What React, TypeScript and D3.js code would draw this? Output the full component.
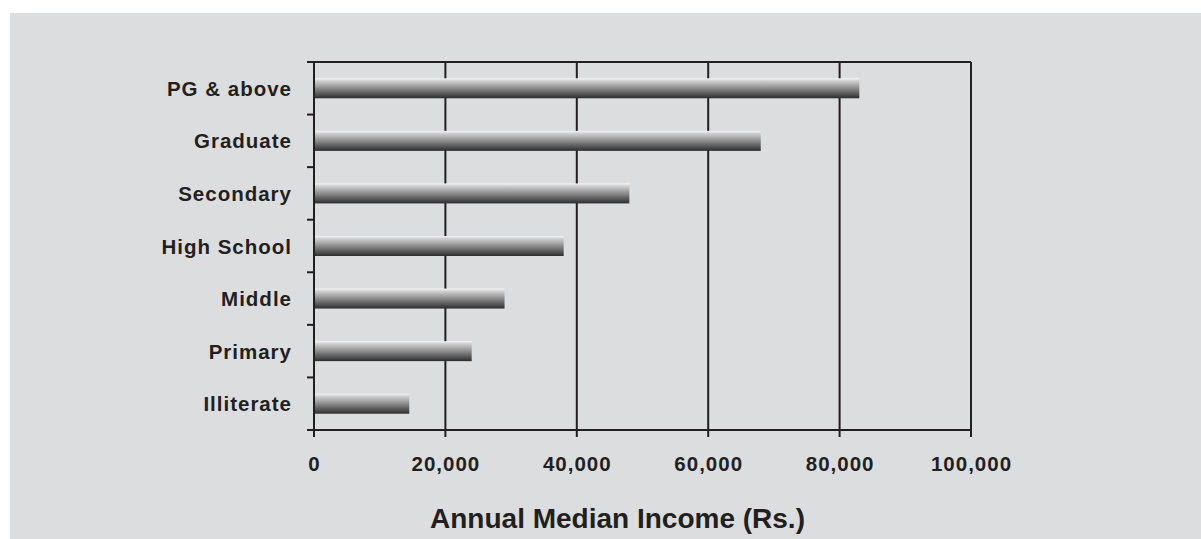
import React from "react";
import * as d3 from "d3";

const categories = ["PG & above", "Graduate", "Secondary", "High School", "Middle", "Primary", "Illiterate"];
const incomes = [83000, 68000, 48000, 38000, 29000, 24000, 14500];
const xTicks = [0, 20000, 40000, 60000, 80000, 100000];
const xTitle = "Annual Median Income (Rs.)";

const W = 1201;
const H = 539;
const M = { left: 314, right: 971, top: 62, bottom: 430 };
const AXIS = "#231f20";
const FONT = "'Liberation Sans', Arial, Helvetica, sans-serif";

export default function App() {
  const x = d3.scaleLinear().domain([0, 100000]).range([M.left, M.right]);
  const y = d3.scaleBand<string>().domain(categories).range([M.top, M.bottom]).padding(0);
  const bw = y.bandwidth();
  const barH = bw * 0.38;
  const fmt = d3.format(",");
  const boundaries = d3.range(categories.length + 1).map((i) => M.top + i * bw);

  return (
    <svg width={W} height={H} style={{ position: "absolute", left: 0, top: 0 }}>
      <defs>
        <linearGradient id="barGrad" x1="0" y1="0" x2="0" y2="1">
          <stop offset="0" stopColor="#f6f6f6" />
          <stop offset="0.12" stopColor="#d2d2d2" />
          <stop offset="0.5" stopColor="#8c8c8c" />
          <stop offset="0.85" stopColor="#4a4a4a" />
          <stop offset="1" stopColor="#2b2b2b" />
        </linearGradient>
      </defs>
      <rect x={10} y={13} width={W - 10} height={H - 13} fill="#dcdddf" />

      {xTicks.slice(1).map((t) => (
        <line key={"g" + t} x1={x(t)} x2={x(t)} y1={M.top} y2={M.bottom} stroke={AXIS} strokeWidth={2} />
      ))}
      <line x1={M.left} x2={M.right} y1={M.top} y2={M.top} stroke={AXIS} strokeWidth={2} />

      {categories.map((c, i) => (
        <rect
          key={c}
          x={x(0)}
          y={(y(c) as number) + (bw - barH) / 2}
          width={x(incomes[i]) - x(0)}
          height={barH}
          fill="url(#barGrad)"
        />
      ))}

      <line x1={M.left} x2={M.left} y1={M.top - 1} y2={M.bottom + 7} stroke={AXIS} strokeWidth={2} />
      <line x1={M.left - 7} x2={M.right} y1={M.bottom} y2={M.bottom} stroke={AXIS} strokeWidth={2} />
      {boundaries.map((b, i) => (
        <line key={"yt" + i} x1={M.left - 7} x2={M.left} y1={b} y2={b} stroke={AXIS} strokeWidth={2} />
      ))}
      {xTicks.map((t) => (
        <line key={"xt" + t} x1={x(t)} x2={x(t)} y1={M.bottom} y2={M.bottom + 7} stroke={AXIS} strokeWidth={2} />
      ))}

      {categories.map((c) => (
        <text
          key={"l" + c}
          x={292}
          y={(y(c) as number) + bw / 2 + 7.5}
          textAnchor="end"
          fontFamily={FONT}
          fontWeight="bold"
          fontSize={20.5}
          letterSpacing={1}
          fill={AXIS}
        >
          {c}
        </text>
      ))}

      {xTicks.map((t) => (
        <text
          key={"xl" + t}
          x={x(t) + 0.5}
          y={471}
          textAnchor="middle"
          fontFamily={FONT}
          fontWeight="bold"
          fontSize={20.5}
          letterSpacing={1}
          fill={AXIS}
        >
          {fmt(t)}
        </text>
      ))}

      <text x={617.5} y={528} textAnchor="middle" fontFamily={FONT} fontWeight="bold" fontSize={28} fill={AXIS}>
        {xTitle}
      </text>
    </svg>
  );
}
